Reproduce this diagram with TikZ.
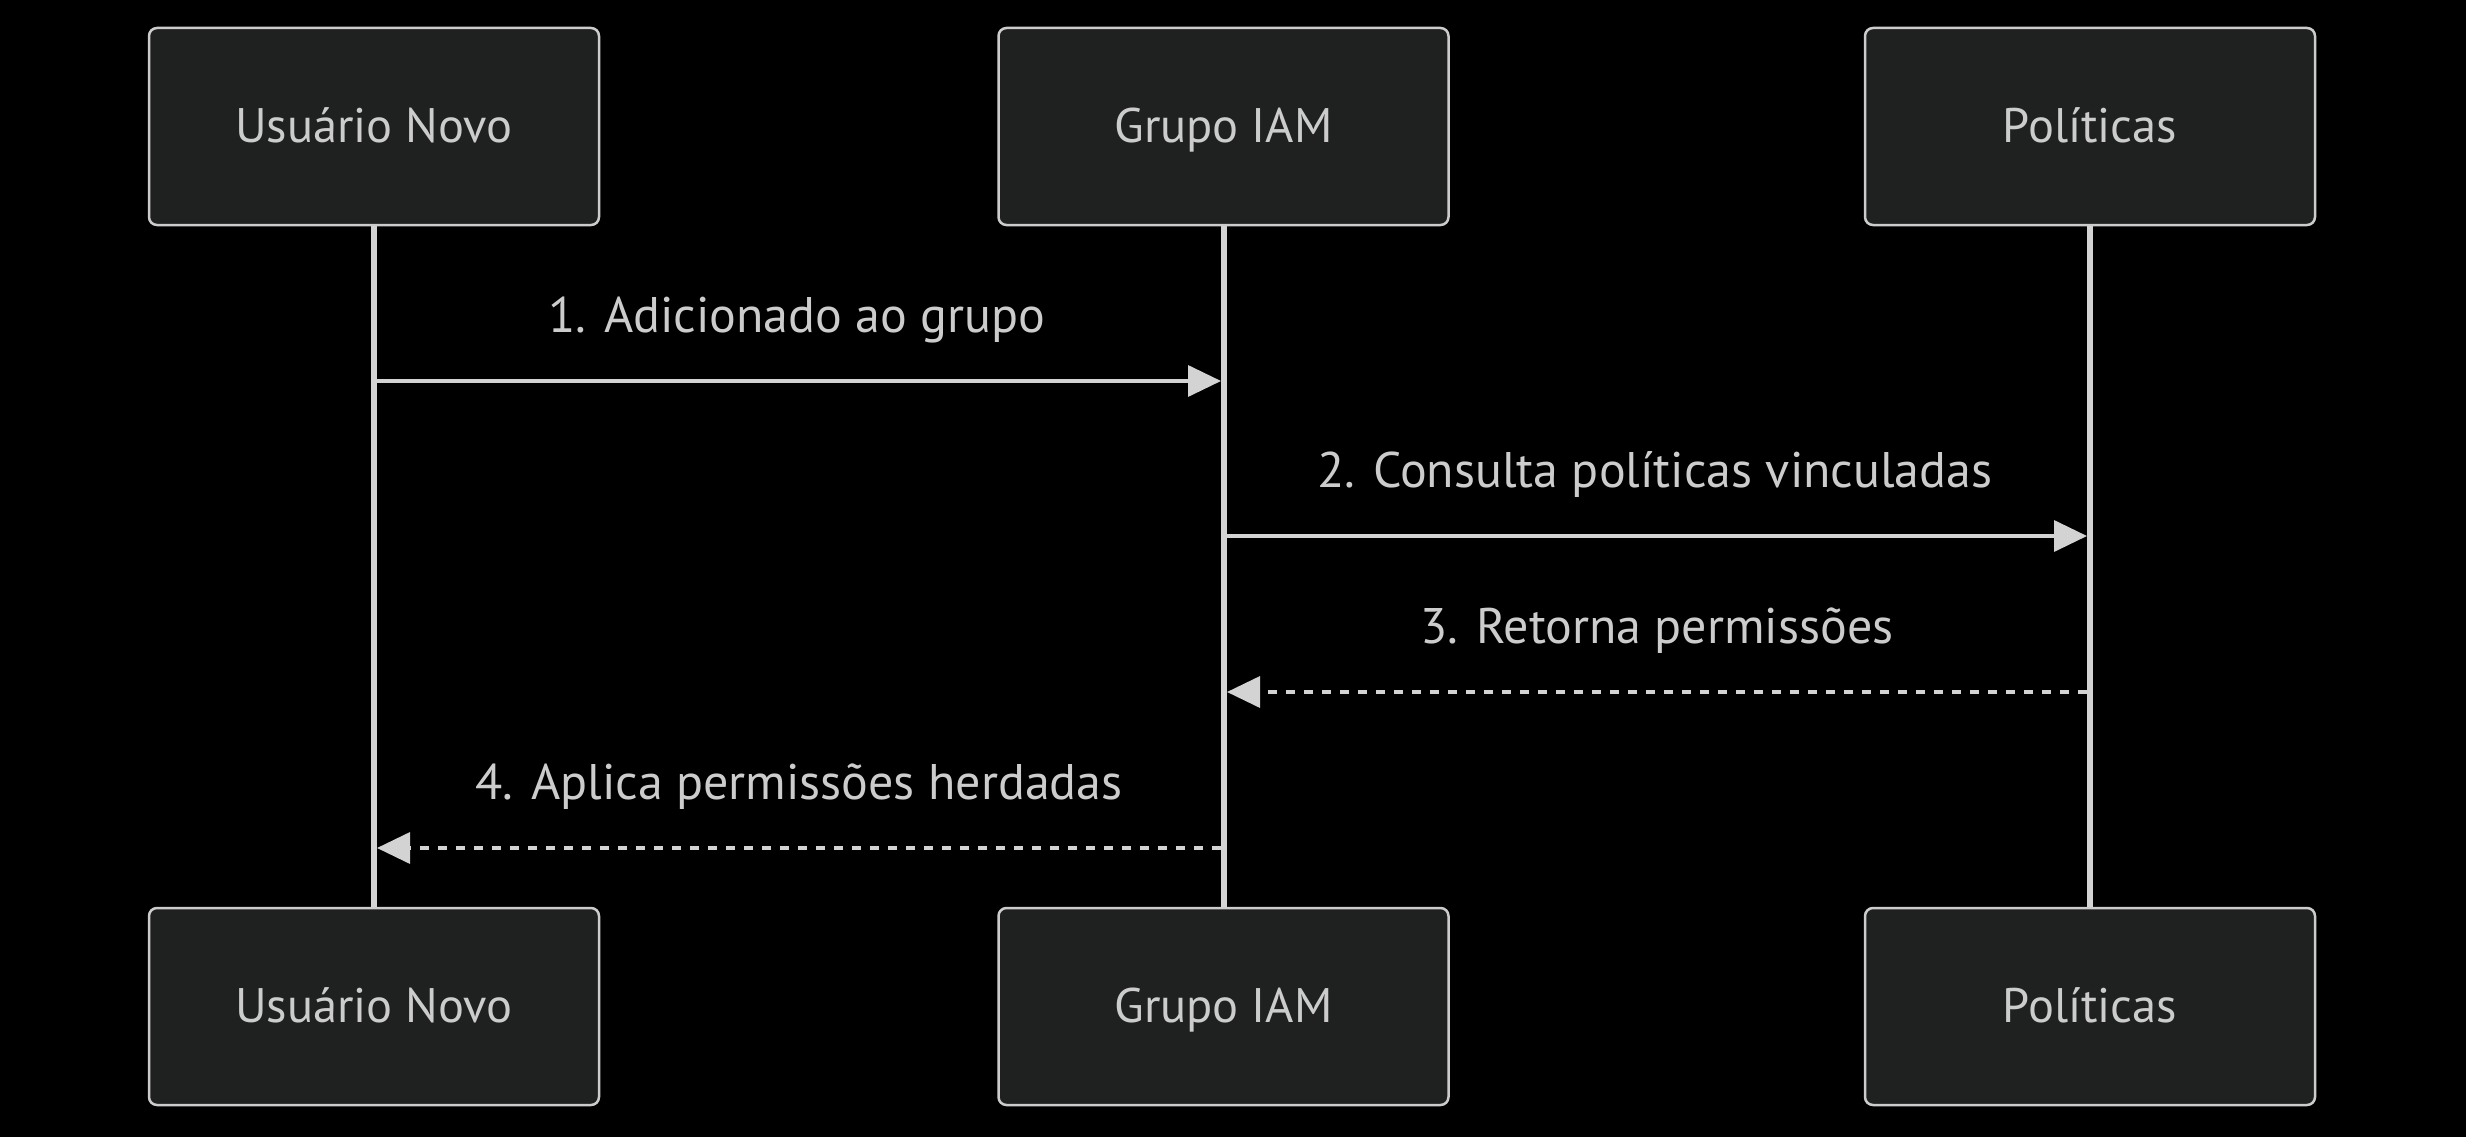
\documentclass[tikz,border=0pt]{standalone}
\usepackage{fontspec}
\setmainfont{PT Sans}
\usetikzlibrary{arrows.meta}
\definecolor{bg}{HTML}{000000}
\definecolor{boxfill}{HTML}{1F2020}
\definecolor{fg}{HTML}{CCCCCC}
\definecolor{ln}{HTML}{D3D3D3}
\begin{document}
\begin{tikzpicture}[x=1pt,y=-1pt,
 actor/.style={draw=fg, fill=boxfill, line width=2.5pt, rounded corners=8pt, minimum width=450pt, minimum height=197pt, text=fg, font=\fontsize{48.5}{58}\selectfont, inner sep=0pt, text height=32pt, text depth=0pt},
 life/.style={draw=ln, line width=6pt},
 msg/.style={draw=ln, line width=3.5pt, -{Triangle[length=33pt,width=31pt]}},
 reply/.style={msg, dash pattern=on 9pt off 9pt},
 lbl/.style={text=fg, font=\fontsize{50}{60}\selectfont, inner sep=0pt, anchor=base}]
\fill[bg] (0,0) rectangle (2466,1137);
\useasboundingbox (0,0) rectangle (2466,1137);
\node[actor] (u) at (374,126.5) {Usuário Novo};
\node[actor] (g) at (1223.5,126.5) {Grupo IAM};
\node[actor] (p) at (2090,126.5) {Políticas};
\node[actor] (ub) at (374,1006.5) {Usuário Novo};
\node[actor] (gb) at (1223.5,1006.5) {Grupo IAM};
\node[actor] (pb) at (2090,1006.5) {Políticas};
\draw[life] (u.south) -- (ub.north);
\draw[life] (g.south) -- (gb.north);
\draw[life] (p.south) -- (pb.north);
\coordinate (m1a) at (377,381);
\coordinate (m1b) at (1221,381);
\coordinate (m2a) at (1227,536);
\coordinate (m2b) at (2087,536);
\coordinate (m3a) at (2087,692);
\coordinate (m3b) at (1227,692);
\coordinate (m4a) at (1221,848);
\coordinate (m4b) at (377,848);
\draw[msg] (m1a) -- (m1b);
\draw[msg] (m2a) -- (m2b);
\draw[reply] (m3a) -- (m3b);
\draw[reply] (m4a) -- (m4b);
\node[lbl] (l1) at (797,332) {1. Adicionado ao grupo};
\node[lbl] (l2) at (1655,487) {2. Consulta políticas vinculadas};
\node[lbl] (l3) at (1657,643) {3. Retorna permissões};
\node[lbl] (l4) at (799,799) {4. Aplica permissões herdadas};
\end{tikzpicture}
\end{document}
